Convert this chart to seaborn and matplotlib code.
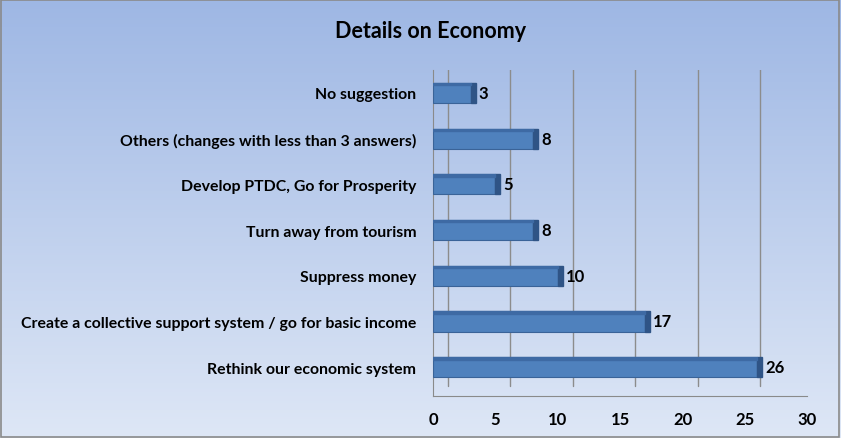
import numpy as np
import pandas as pd
import seaborn as sns
import matplotlib.pyplot as plt
import matplotlib.transforms as mtransforms
from matplotlib.patches import Rectangle

categories = ['No suggestion',
              'Others (changes with less than 3 answers)',
              'Develop PTDC, Go for Prosperity',
              'Turn away from tourism',
              'Suppress money',
              'Create a collective support system / go for basic income',
              'Rethink our economic system']
counts = [3, 8, 5, 8, 10, 17, 26]
x_ticks = [0, 5, 10, 15, 20, 25, 30]

df = pd.DataFrame({'answer': categories, 'count': counts})

sns.set_style('white')
plt.rcParams['font.family'] = ['Lato', 'DejaVu Sans']
plt.rcParams['text.color'] = 'black'
plt.rcParams['xtick.color'] = 'black'
plt.rcParams['ytick.color'] = 'black'

fig = plt.figure(figsize=(8.41, 4.39), dpi=100)

# gradient background like the excel chart area
bg = fig.add_axes([0, 0, 1, 1], zorder=-10)
grad = np.linspace(0, 1, 256).reshape(-1, 1)
top = np.array([158, 183, 228]) / 255
bottom = np.array([222, 231, 246]) / 255
img = top + (bottom - top) * grad[:, :, None]
bg.imshow(img, aspect='auto', extent=[0, 1, 0, 1])
bg.add_patch(Rectangle((0.001, 0.002), 0.997, 0.995, fill=False, edgecolor='#8a8a8a', lw=1.2))
bg.set_axis_off()

ax = fig.add_axes([0.515, 0.0957, 0.445, 0.7426])
ax.patch.set_alpha(0)

sns.barplot(data=df, y='answer', x='count', orient='h', color='#4f81bd', saturation=1,
            width=0.44, edgecolor='#3a6398', linewidth=0.8, ax=ax, zorder=3)

# darker side face + top strip to hint at the 3d look
for bar in list(ax.patches):
    ax.add_patch(Rectangle((bar.get_x() + bar.get_width(), bar.get_y()), 0.4, bar.get_height(),
                           color='#2f5486', zorder=3))
    ax.add_patch(Rectangle((bar.get_x(), bar.get_y()), bar.get_width(), bar.get_height() * 0.12,
                           color='#3e6aa4', zorder=3.5))

for bar, val in zip(ax.patches[:len(counts)], counts):
    ax.text(bar.get_width() + 0.65, bar.get_y() + bar.get_height() / 2, str(val),
            va='center', ha='left', fontsize=12, fontweight='bold', color='black', zorder=5)

ax.set_xlim(0, 30)
ax.set_ylim(6.63, -0.5)
ax.set_xticks(x_ticks)
ax.set_xticklabels([str(t) for t in x_ticks], fontsize=12, fontweight='bold')
ax.set_yticks(range(len(categories)))
ax.set_yticklabels(categories, fontsize=11.4, fontweight='bold')
ax.tick_params(axis='y', length=0, pad=12)
ax.tick_params(axis='x', length=5, color='#8a8a8a', pad=6)
ax.set_xlabel('')
ax.set_ylabel('')

# grid on the back wall, shifted up-right
offset = mtransforms.ScaledTranslation(15 / 100, 10 / 100, fig.dpi_scale_trans)
for t in x_ticks:
    ln = ax.axvline(t, color='#8c8c8c', lw=1, zorder=1)
    ln.set_transform(ln.get_transform() + offset)

for s in ['top', 'right']:
    ax.spines[s].set_visible(False)
for s in ['left', 'bottom']:
    ax.spines[s].set_color('#8a8a8a')

fig.text(0.512, 0.928, 'Details on Economy', ha='center', va='center',
         fontsize=15.5, fontweight='bold', color='black')

plt.savefig('out.png', dpi=100)
